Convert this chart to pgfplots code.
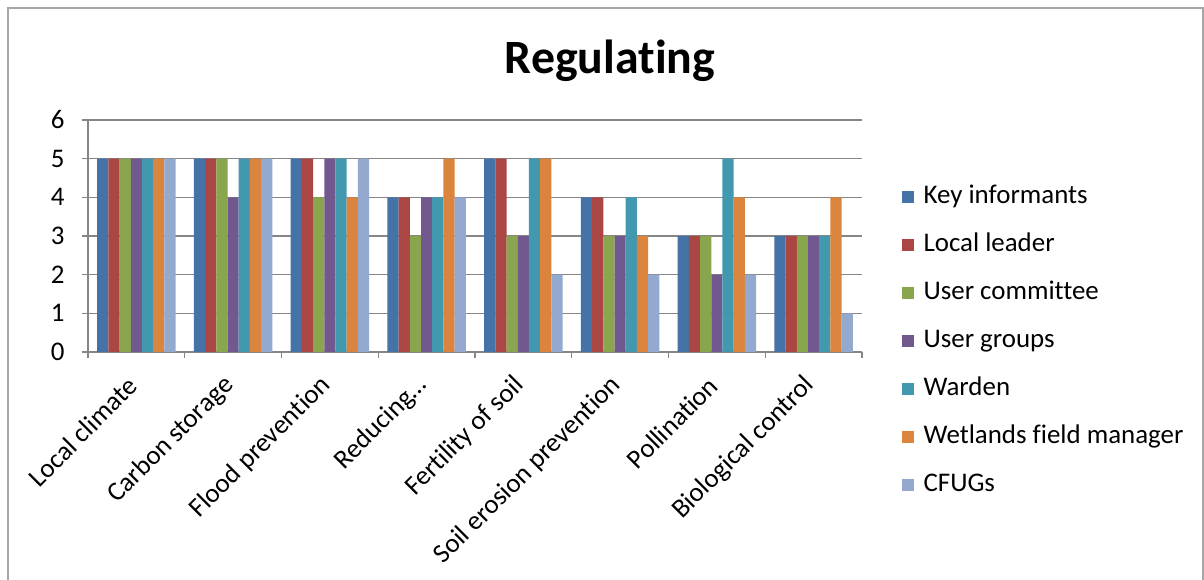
\documentclass[border=0pt]{standalone}
\usepackage{pgfplots}
\pgfplotsset{compat=1.18}
\usepackage{pgfplotstable}
\usepackage{fontspec}
\setmainfont[Ligatures={NoCommon}, RawFeature={-liga;-clig;-calt;-dlig}]{Carlito}
\definecolor{c1}{HTML}{4572A7}
\definecolor{c2}{HTML}{AA4643}
\definecolor{c3}{HTML}{89A54E}
\definecolor{c4}{HTML}{71588F}
\definecolor{c5}{HTML}{4198AF}
\definecolor{c6}{HTML}{DB843D}
\definecolor{c7}{HTML}{93A9CF}
\definecolor{gridc}{HTML}{868686}
\pgfplotstableread{
x key local usercom usergr warden wetlands cfugs
0 5 5 5 5 5 5 5
1 5 5 5 4 5 5 5
2 5 5 4 5 5 4 5
3 4 4 3 4 4 5 4
4 5 5 3 3 5 5 2
5 4 4 3 3 4 3 2
6 3 3 3 2 5 4 2
7 3 3 3 3 3 4 1
}\datatable
\begin{document}
\begin{tikzpicture}[x=1bp,y=1bp]
\useasboundingbox (0,0) rectangle (1204,580);
\draw[gray!70, line width=1.2bp] (8,-5) -- (8,572) -- (1203,572) -- (1203,-5);
\node[font=\fontsize{48}{48}\selectfont\bfseries] at (610,519) {Regulating};
\begin{axis}[
  at={(88bp,228bp)}, anchor=south west,
  scale only axis, width=774bp, height=232bp,
  xmin=-0.5, xmax=7.5, ymin=0, ymax=6,
  ybar=0pt, bar width=11.2bp,
  axis x line*=bottom, axis y line*=left,
  axis line style={gridc, line width=1.2bp, -},
  ymajorgrids, grid style={gridc, line width=1.2bp},
  ytick={0,1,...,6},
  xtick={0,...,7},
  xticklabels={Local climate, Carbon storage, Flood prevention, Reducing\dots, Fertility of soil, Soil erosion prevention, Pollination, Biological control},
  x tick style={draw=none},
  y tick style={gridc, line width=1.2bp},
  tick align=outside, major tick length=6bp,
  extra x ticks={-0.5,0.5,...,7.5},
  extra x tick labels={},
  extra x tick style={grid=none, x tick style={draw=gridc, line width=1.2bp}, major tick length=6bp},
  ticklabel style={font=\fontsize{27}{27}\selectfont},
  /pgf/number format/assume math mode=true,
  xticklabel style={xshift=-1bp, yshift=-21bp, rotate=45, anchor=east},
  yticklabel style={xshift=-14bp},
  legend style={at={(1.047,0.73)}, anchor=north west, draw=none, fill=none,
    font=\fontsize{27}{27}\selectfont, row sep=23bp,
    nodes={inner sep=0pt, text height=19bp, text depth=6bp}},
  legend cell align=left,
  legend image code/.code={\fill[#1] (0bp,-6bp) rectangle (12bp,6bp);},
  /tikz/every odd column/.append style={column sep=10bp},
]
\addplot[fill=c1, draw=none] table[x=x,y=key]{\datatable};
\addplot[fill=c2, draw=none] table[x=x,y=local]{\datatable};
\addplot[fill=c3, draw=none] table[x=x,y=usercom]{\datatable};
\addplot[fill=c4, draw=none] table[x=x,y=usergr]{\datatable};
\addplot[fill=c5, draw=none] table[x=x,y=warden]{\datatable};
\addplot[fill=c6, draw=none] table[x=x,y=wetlands]{\datatable};
\addplot[fill=c7, draw=none] table[x=x,y=cfugs]{\datatable};
\legend{Key informants, Local leader, User committee, User groups, Warden, Wetlands field manager, CFUGs}
\end{axis}
\end{tikzpicture}
\end{document}
